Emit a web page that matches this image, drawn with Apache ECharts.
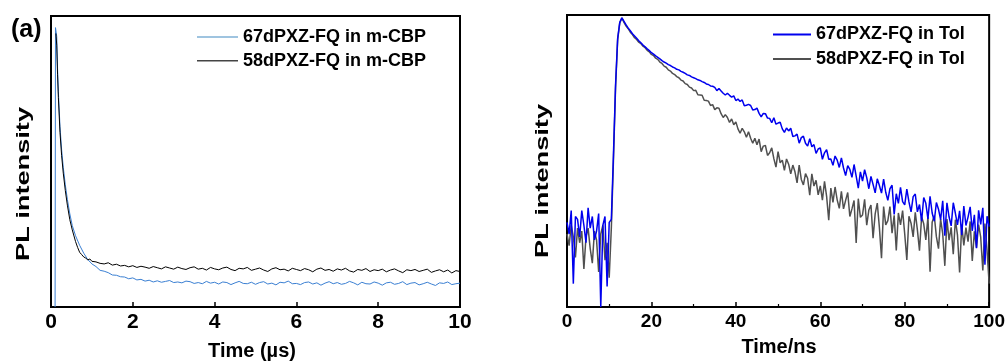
<!DOCTYPE html>
<html><head><meta charset="utf-8">
<script src="https://cdn.jsdelivr.net/npm/echarts@6/dist/echarts.min.js"></script>
<style>html,body{margin:0;padding:0;background:#fff}#c{width:1008px;height:361px}</style>
</head><body><div id="c"></div>
<script>
// ---------- Panel (a): m-CBP films, time in µs ----------
const leftNames = ['67dPXZ-FQ in m-CBP', '58dPXZ-FQ in m-CBP'];
const leftXTicks = [0, 2, 4, 6, 8, 10];
// early decay [time µs, intensity a.u.]
const left67Head = [[0.1,0],[0.11,960],[0.14,930],[0.16,820],[0.18,740],[0.22,620],[0.26,540],[0.30,480],[0.35,420],[0.40,370],[0.46,320],[0.52,280],[0.60,245],[0.70,212],[0.80,185],[0.90,163],[1.0,148]];
const left58Head = [[0.12,940],[0.14,900],[0.16,800],[0.18,720],[0.22,600],[0.26,520],[0.30,460],[0.35,400],[0.40,350],[0.46,300],[0.52,265],[0.60,225],[0.65,205],[0.70,188],[0.75,180],[0.80,172],[0.85,168],[0.90,162],[0.95,165],[1.0,157]];
// tail, sampled every 0.1 µs from 1.1 to 10.0 µs
const leftTailStart = 1.1, leftTailStep = 0.1;
const left67Tail = [139,126,123,118,110,109,104,103,97,100,
  93,95,89,92,86,90,85,88,91,84,
  86,83,89,87,81,84,80,88,82,85,
  79,86,84,77,83,88,81,80,85,78,
  84,87,79,82,76,85,83,89,80,81,
  77,84,86,79,83,75,82,87,80,84,
  78,81,88,83,76,85,80,79,86,82,
  75,83,85,78,81,87,77,82,84,76,
  80,85,79,74,83,81,86,77,80,82];
const left58Tail = [155,150,148,152,144,147,141,143,138,142,
  136,140,137,133,139,135,131,138,134,130,
  137,132,129,135,138,130,133,127,136,131,
  128,134,137,129,125,133,131,136,126,130,
  134,127,122,131,135,128,130,124,133,129,
  125,132,128,121,130,134,126,129,123,131,
  127,133,124,120,129,126,132,122,128,125,
  130,121,127,131,124,118,128,125,129,122,
  126,130,119,124,128,121,127,117,125,122];

// ---------- Panel (b): toluene solutions, time in ns ----------
const rightNames = ['67dPXZ-FQ in Tol', '58dPXZ-FQ in Tol'];
const rightXTicks = [0, 20, 40, 60, 80, 100];
const rightStep = 0.5; // ns, samples from 0 to 100 ns
const right67 = [29,25,33,8,31,30,24,33,28,22,34,27,31,23,26,32,0,28,31,7,29,
  30,52,76,92,97.5,99,97.8,96.6,95.5,94.6,93.6,92.8,92.0,91.2,90.5,89.7,89.1,88.4,87.8,87.1,86.6,86.0,85.5,85.0,84.4,83.9,83.5,83.0,
  82.7,82.2,81.9,81.4,81.2,80.7,80.4,80.0,79.5,79.3,
  78.8,78.5,78.2,77.8,77.6,77.2,76.9,76.4,76.2,75.7,75.6,
  75.2,74.1,74.8,74.0,73.2,72.6,73.2,72.5,71.9,72.3,
  70.7,71.2,70.4,70.9,68.9,69.1,69.4,69.0,67.5,67.6,
  68.1,66.3,65.1,66.3,66.2,64.7,64.6,63.1,64.8,62.6,
  63.0,63.3,61.0,59.8,61.3,60.3,61.2,58.4,58.6,59.2,
  56.1,58.0,58.5,56.1,55.1,57.6,54.9,55.6,52.6,54.1,
  54.5,50.6,52.8,53.9,50.6,50.7,48.5,51.7,50.3,47.8,
  51.1,47.6,45.0,48.4,47.1,44.4,48.8,44.8,40.7,46.3,
  43.1,47.0,44.3,40.5,44.7,42.0,39.1,43.9,41.6,39.0,
  43.8,39.3,36.5,40.5,41.7,31.7,38.8,35.5,41.0,36.1,
  35.0,40.4,36.0,32.6,37.8,38.7,32.6,35.1,29.4,37.5,
  35.5,30.2,37.9,32.2,29.4,35.8,33.5,29.9,36.4,24.4,
  35.7,30.9,27.8,35.7,32.1,28.1,32.9,24.7,34.6,27.9,
  30.8,34.3,26.1,31.6,20.1,33.1,28.3,34.0,14.5,31.1,
  27.5];
const right58 = [25,21,28,24,17,27,22,26,13,24,27,20,15,26,23,12,25,28,16,22,10,
  27,50,75,91.5,97.3,99.0,
  97.5,96.2,95.3,94.1,93.3,92.2,91.6,90.7,90.2,89.3,
  88.8,87.9,87.4,86.5,86.1,85.2,84.8,83.9,83.4,82.5,
  82.1,81.2,80.8,80.0,79.6,78.9,78.5,77.7,77.4,76.5,
  76.2,75.3,75.0,
  74.1,74.2,72.7,72.6,72.5,70.8,70.7,70.5,69.0,69.3,
  67.6,68.2,68.1,66.2,64.9,65.9,64.9,63.2,64.4,62.4,
  63.4,61.0,59.5,61.2,60.0,58.1,60.0,57.8,56.1,57.8,
  55.6,57.5,53.2,55.1,55.3,51.9,52.8,54.5,50.8,47.9,
  53.2,49.4,50.3,46.8,50.7,48.9,45.6,48.6,46.3,42.5,
  48.6,43.7,41.8,45.7,44.1,38.3,45.6,41.4,43.4,38.4,
  41.5,36.6,43.0,37.9,29.7,40.7,35.8,41.1,36.7,33.8,
  39.6,33.6,36.5,39.2,31.0,33.6,36.5,21.9,37.1,30.7,
  31.5,36.9,28.0,33.2,34.9,23.6,31.9,35.6,27.2,16.7,
  34.4,28.1,29.6,34.4,25.3,31.4,19.4,32.2,28.1,33.0,
  25.0,16.1,31.1,28.7,24.0,32.4,26.4,19.3,30.9,28.5,
  23.0,30.8,12.1,29.0,31.3,24.1,20.0,30.1,25.1,14.1,
  30.1,22.9,27.3,18.1,29.9,24.6,11.8,28.2,21.1,27.2,
  22.4,29.3,15.8,25.9,20.3,28.2,23.9,12.5,28.6,19.4,
  8.0];

// ---------- build ----------
const FONT = '"Liberation Sans", Arial, sans-serif';
const tail = (arr, start, step) => arr.map((v, i) => [+(start + i * step).toFixed(2), v]);
const grid = (arr, step) => arr.map((v, i) => [i * step, v]);

const left67Data = left67Head.concat(tail(left67Tail, leftTailStart, leftTailStep));
const left58Data = left58Head.concat(tail(left58Tail, leftTailStart, leftTailStep));
const right67Data = grid(right67, rightStep);
const right58Data = grid(right58, rightStep);

const axisLine = {show: true, onZero: false, lineStyle: {color: '#000', width: 2}};
function xAxis(gi, ticks, fs, minor) {
  return {
    type: 'value', gridIndex: gi, min: ticks[0], max: ticks[ticks.length - 1],
    interval: ticks[1] - ticks[0],
    axisLine: axisLine,
    axisTick: {show: true, inside: true, length: 5, lineStyle: {color: '#000', width: 1.5}},
    minorTick: {show: minor, splitNumber: 2, length: 3, lineStyle: {color: '#000', width: 1.2}},
    splitLine: {show: false},
    axisLabel: {color: '#000', fontSize: fs, fontWeight: 'bold', fontFamily: FONT, margin: 5}
  };
}
function yAxis(gi, max) {
  return {type: 'value', gridIndex: gi, min: 0, max: max,
    axisLine: axisLine, axisTick: {show: false}, axisLabel: {show: false}, splitLine: {show: false}};
}
const lineSeries = (name, data, xi, color, w) => ({
  name, type: 'line', data, xAxisIndex: xi, yAxisIndex: xi, showSymbol: false, symbol: 'none',
  lineStyle: {color, width: w}, itemStyle: {color}, animation: false, silent: true
});
const legendText = {fontSize: 18, fontWeight: 'bold', fontFamily: FONT, color: '#000', lineHeight: 20};

const option = {
  animation: false,
  backgroundColor: '#fff',
  grid: [
    {left: 51, top: 16, width: 409, height: 291, show: true, borderColor: '#000', borderWidth: 2, backgroundColor: 'transparent'},
    {left: 567, top: 15, width: 423, height: 292, show: true, borderColor: '#000', borderWidth: 2, backgroundColor: 'transparent'}
  ],
  xAxis: [xAxis(0, leftXTicks, 21, false), xAxis(1, rightXTicks, 19, true)],
  yAxis: [yAxis(0, 1000), yAxis(1, 100)],
  legend: [
    {orient: 'vertical', left: 192, top: 22, icon: 'rect', itemWidth: 41, itemHeight: 1.5, itemGap: 3.8,
     textStyle: legendText, selectedMode: false,
     data: [{name: leftNames[0], itemStyle: {color: '#7fb0d6'}}, {name: leftNames[1], itemStyle: {color: '#444'}}]},
    {orient: 'vertical', left: 768, top: 19.5, icon: 'rect', itemWidth: 38, itemHeight: 2, itemGap: 4.5,
     textStyle: legendText, selectedMode: false,
     data: [rightNames[0], rightNames[1]]}
  ],
  series: [
    lineSeries(leftNames[0], left67Data, 0, '#3a7fd2', 1),
    lineSeries(leftNames[1], left58Data, 0, '#000000', 1),
    lineSeries(rightNames[1], right58Data, 1, '#505050', 1.5),
    lineSeries(rightNames[0], right67Data, 1, '#0000ee', 1.5)
  ],
  graphic: [
    {type: 'text', x: 11, y: 30, style: {text: '(a)', font: 'bold 25px ' + FONT, fill: '#000', verticalAlign: 'middle', textVerticalAlign: 'middle'}},
    {type: 'text', x: 252, y: 351, style: {text: 'Time (µs)', font: 'bold 20px ' + FONT, fill: '#000', align: 'center', verticalAlign: 'middle', textAlign: 'center', textVerticalAlign: 'middle'}},
    {type: 'text', x: 779, y: 347, style: {text: 'Time/ns', font: 'bold 20px ' + FONT, fill: '#000', align: 'center', verticalAlign: 'middle', textAlign: 'center', textVerticalAlign: 'middle'}},
    {type: 'text', x: 24, y: 184, rotation: Math.PI / 2, scaleX: 1.43, style: {text: 'PL intensity', font: 'bold 19px ' + FONT, fill: '#000', align: 'center', verticalAlign: 'middle', textAlign: 'center', textVerticalAlign: 'middle'}},
    {type: 'text', x: 543, y: 181, rotation: Math.PI / 2, scaleX: 1.43, style: {text: 'PL intensity', font: 'bold 19px ' + FONT, fill: '#000', align: 'center', verticalAlign: 'middle', textAlign: 'center', textVerticalAlign: 'middle'}}
  ]
};
const chart = echarts.init(document.getElementById('c'), null, {renderer: 'canvas'});
chart.setOption(option);
</script></body></html>
